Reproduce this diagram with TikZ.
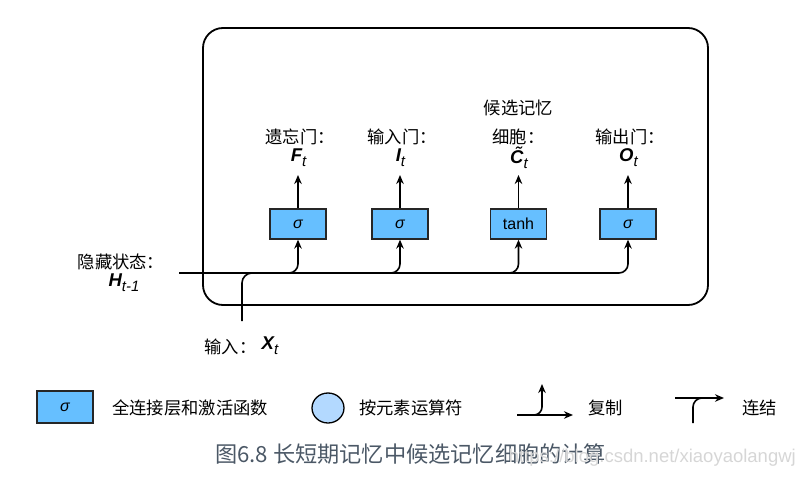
\documentclass[tikz,border=0pt]{standalone}
\usepackage{fontspec}
\setmainfont{Liberation Sans}
\newfontfamily\cjk{Noto Sans CJK SC}
\usetikzlibrary{arrows.meta,shapes.geometric}
\definecolor{gatefill}{RGB}{102,191,255}
\definecolor{opfill}{RGB}{179,217,255}
\definecolor{captc}{RGB}{75,88,102}
\newcommand{\vsub}[1]{\raisebox{-0.5ex}{\fontsize{15}{16}\selectfont\mdseries\itshape #1}}
\tikzset{
  gate/.style={draw=black!85, line width=1.3pt, fill=gatefill, minimum width=56pt, minimum height=30pt, inner sep=0pt, font=\fontsize{16}{18}\selectfont},
  conn/.style={line width=1.6pt, -{Stealth[length=9pt,width=7.5pt]}},
  wire/.style={line width=1.6pt},
  lbl/.style={font=\cjk\fontsize{17.3}{20}\selectfont, inner sep=0pt},
  var/.style={font=\fontsize{18.5}{20}\selectfont\bfseries\itshape, inner sep=0pt},
  cellbox/.style={draw, line width=1.8pt, rounded corners=20pt, minimum width=505pt, minimum height=277pt, inner sep=0pt},
}
\begin{document}
\begin{tikzpicture}[x=1pt,y=-1pt]
\useasboundingbox (0,0) rectangle (804,479);
% cell
\node[cellbox] (cell) at (455.5,166.5) {};
% gates
\node[gate] (f) at (298,224) {\itshape σ};
\node[gate] (i) at (400,224) {\itshape σ};
\node[gate] (c) at (518.5,224) {tanh};
\node[gate] (o) at (628,224) {\itshape σ};
% outputs
\coordinate (fo) at (298,175);
\coordinate (io) at (400,175);
\coordinate (co) at (518.5,175);
\coordinate (oo) at (628,175);
\draw[conn] (f) -- (fo);
\draw[conn] (i) -- (io);
\draw[conn] (c) -- (co);
\draw[conn] (o) -- (oo);
\node[var] (Ft) at (298.5,158) {F\vsub{t}};
\node[var] (It) at (400.5,158) {I\vsub{t}};
\node[var] (Ct) at (519,158) {\~{C}\vsub{t}};
\node[var] (Ot) at (628.5,158) {O\vsub{t}};
\node[lbl] (fl) at (300,137) {遗忘门：};
\node[lbl] (il) at (402,137) {输入门：};
\node[lbl] (cl1) at (518.5,108) {候选记忆};
\node[lbl] (cl2) at (518.5,137) {细胞：};
\node[lbl] (ol) at (630,137) {输出门：};
% hidden state and input
\coordinate (hin) at (179,273);
\draw[conn, rounded corners=9pt] (hin) -| (f.south);
\draw[conn, rounded corners=9pt] (hin) -| (i.south);
\draw[conn, rounded corners=9pt] (hin) -| (c.south);
\draw[conn, rounded corners=9pt] (hin) -| (o.south);
\coordinate (xin) at (242,321);
\coordinate (xj) at (272,273);
\draw[wire, rounded corners=10pt] (xin) |- (xj);
\node[lbl] (hl) at (121,262) {隐藏状态：};
\node[var] (Ht) at (124,283) {H\vsub{t-1}};
\node[lbl] (inl) at (230.5,347) {输入：};
\node[var] (Xt) at (270,346) {X\vsub{t}};
% legend
\node[gate, minimum height=32pt] (lg) at (65,407) {\itshape σ};
\node[lbl, anchor=west] (lgt) at (112,408) {全连接层和激活函数};
\node[draw, ellipse, fill=opfill, line width=1.3pt, minimum width=32pt, minimum height=30pt, inner sep=0pt] (lo) at (328,408) {};
\node[lbl, anchor=west] (lot) at (359,408) {按元素运算符};
\coordinate (cpa) at (517,415);
\coordinate (cpb) at (573,415);
\coordinate (cpm) at (532,415);
\coordinate (cpu) at (542,384);
\draw[conn] (cpa) -- (cpb);
\draw[conn, rounded corners=8pt] (cpm) -| (cpu);
\node[lbl, anchor=west] (cpt) at (588,408) {复制};
\coordinate (cna) at (675,398);
\coordinate (cnb) at (724,398);
\coordinate (cnd) at (693,423);
\coordinate (cnm) at (706,398);
\draw[conn] (cna) -- (cnb);
\draw[wire, rounded corners=9pt] (cnd) |- (cnm);
\node[lbl, anchor=west] (cnt) at (742,408) {连结};
% caption
\node[font=\cjk\fontsize{22.2}{25}\selectfont, text=captc, anchor=west, inner sep=0pt] (cap) at (215,454) {图6.8 长短期记忆中候选记忆细胞的计算};
\node[font=\fontsize{18.5}{20}\selectfont, text=black!16, anchor=east, inner sep=0pt] (wm) at (796,458) {https://blog.csdn.net/xiaoyaolangwj};
\end{tikzpicture}
\end{document}
